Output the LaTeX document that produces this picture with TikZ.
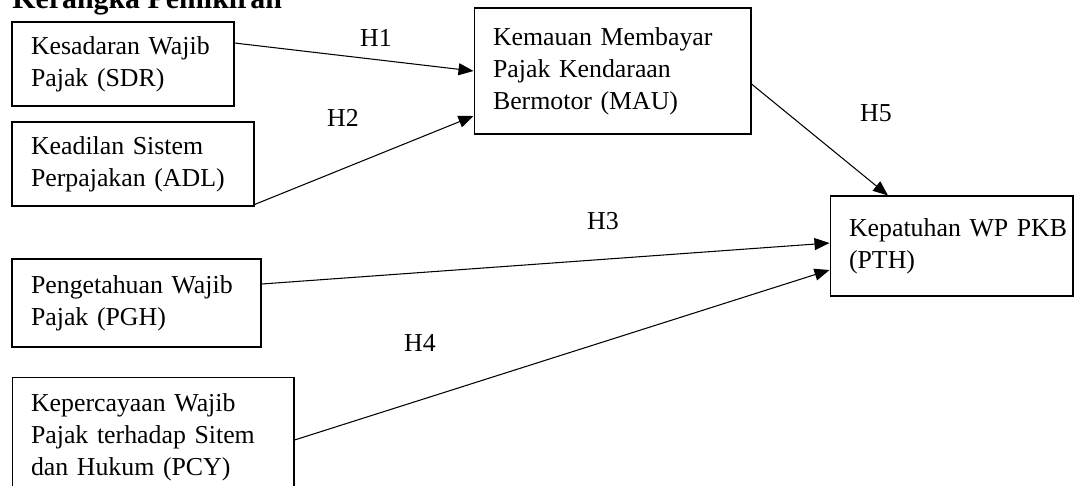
\documentclass[tikz,border=0pt]{standalone}
\usepackage{fontspec}
\setmainfont{Liberation Serif}
\usetikzlibrary{arrows.meta}
\tikzset{
  varbox/.style={draw, line width=0.6pt, align=left, inner xsep=0.38cm, inner ysep=0pt, font=\fontsize{14.7}{18.2}\selectfont},
  hyp/.style={inner sep=0pt, font=\fontsize{14.7}{17}\selectfont},
  link/.style={-{Triangle[length=0.3cm,width=0.24cm]}, line width=0.6pt},
}
\begin{document}
\begin{tikzpicture}[x=0.02cm, y=-0.02cm]
\useasboundingbox (0,0) rectangle (1074,485);
% title (cut at the top)
\node (title)[anchor=base west, inner sep=0pt, font=\bfseries\fontsize{17}{20}\selectfont] at (12,8) {Kerangka Pemikiran};
% variables
\node (sdr)[varbox, text width=3.68cm, minimum width=4.44cm, minimum height=1.68cm] at (123,64) {Kesadaran Wajib\\Pajak (SDR)};
\node (adl)[varbox, text width=4.08cm, minimum width=4.84cm, minimum height=1.68cm] at (133,164) {Keadilan Sistem\\Perpajakan (ADL)};
\node (pgh)[varbox, text width=4.22cm, minimum width=4.98cm, minimum height=1.76cm] at (136.5,303) {Pengetahuan Wajib\\Pajak (PGH)};
\node (pcy)[varbox, text width=4.88cm, minimum width=5.64cm, minimum height=2.4cm] at (153,437) {Kepercayaan Wajib\\Pajak terhadap Sitem\\dan Hukum (PCY)};
\node (mau)[varbox, text width=4.78cm, minimum width=5.54cm, minimum height=2.52cm] at (612.5,71) {Kemauan Membayar\\Pajak Kendaraan\\Bermotor (MAU)};
\node (pth)[varbox, text width=4.10cm, minimum width=4.86cm, minimum height=2.0cm] at (951.5,246) {\mbox{Kepatuhan WP PKB}\\(PTH)};
% hypotheses
\draw[link] ([yshift=0.42cm]sdr.east) -- (mau.west);
\draw[link] ([yshift=0.04cm]adl.south east) -- ([yshift=-0.9cm]mau.west);
\draw[link] ([yshift=0.38cm]pgh.east) -- ([yshift=0.06cm]pth.west);
\draw[link] ([yshift=-0.06cm]pcy.east) -- ([yshift=-0.48cm]pth.west);
\draw[link] ([yshift=-0.26cm]mau.east) -- ([xshift=-1.27cm]pth.north);
\node (h1)[hyp] at (376,38) {H1};
\node (h2)[hyp] at (343,118) {H2};
\node (h3)[hyp] at (603,221) {H3};
\node (h4)[hyp] at (420,343) {H4};
\node (h5)[hyp] at (876,113) {H5};
\end{tikzpicture}
\end{document}
